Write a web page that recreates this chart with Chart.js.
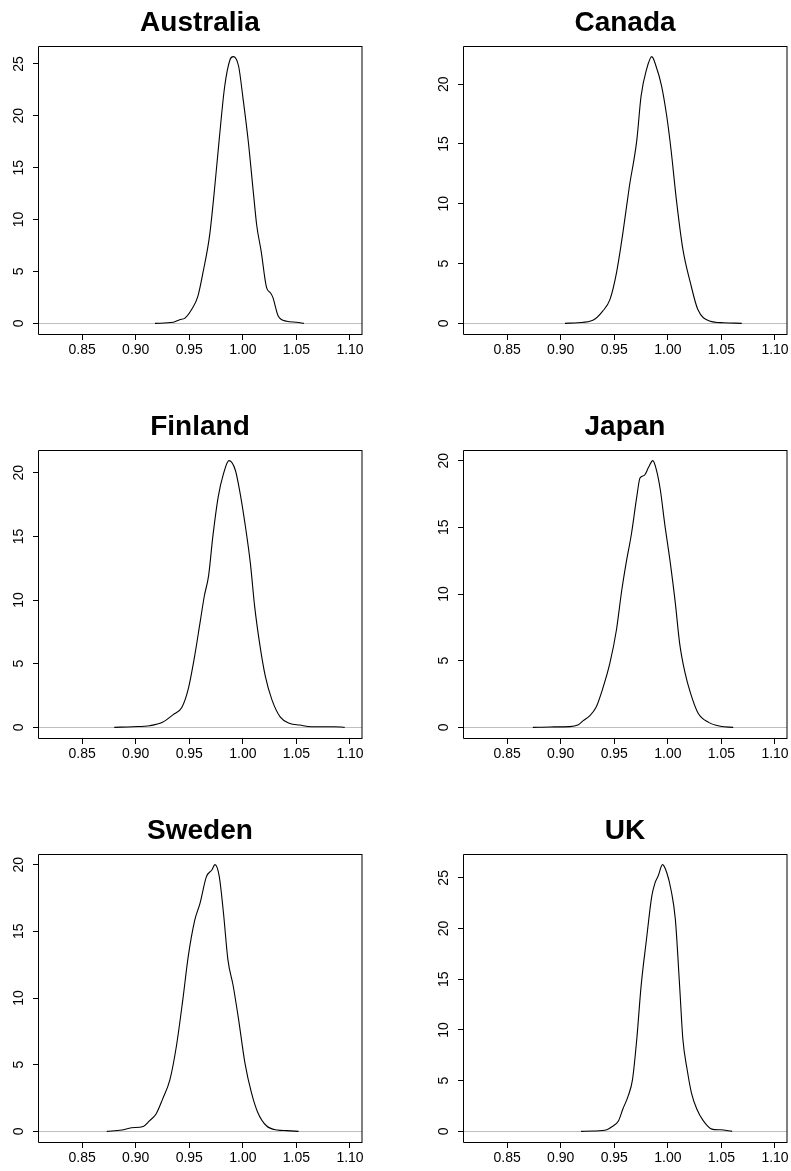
<!DOCTYPE html>
<html>
<head>
<meta charset="utf-8">
<script src="https://cdn.jsdelivr.net/npm/chart.js@4"></script>
<style>
  body { margin: 0; background: #fff; }
  #page { position: relative; width: 791px; height: 1171px; overflow: hidden; }
  #page canvas { position: absolute; }
</style>
</head>
<body>
<div id="page"></div>
<script>
// density curves (x = value, y = density)
const countries = ['Australia', 'Canada', 'Finland', 'Japan', 'Sweden', 'UK'];

const australiaX = [0.918, 0.935, 0.941, 0.946, 0.952, 0.958, 0.963, 0.969, 0.974, 0.978, 0.983, 0.988, 0.991, 0.996, 1.000, 1.005, 1.010, 1.013, 1.017, 1.022, 1.026, 1.028, 1.033, 1.041, 1.050, 1.057];
const australiaY = [0.0, 0.1, 0.35, 0.5, 1.3, 2.6, 5.0, 8.5, 13.4, 17.8, 22.8, 25.4, 25.7, 24.8, 21.8, 17.6, 12.4, 9.4, 7.0, 3.5, 2.9, 2.5, 0.7, 0.2, 0.1, 0.0];

const canadaX = [0.904, 0.916, 0.930, 0.939, 0.946, 0.952, 0.958, 0.964, 0.971, 0.975, 0.980, 0.985, 0.989, 0.994, 0.999, 1.003, 1.008, 1.014, 1.021, 1.028, 1.039, 1.052, 1.069];
const canadaY = [0.0, 0.05, 0.25, 1.0, 2.0, 4.2, 7.55, 11.4, 15.3, 19.0, 21.2, 22.3, 21.5, 19.9, 17.3, 14.5, 10.3, 6.2, 3.4, 1.15, 0.2, 0.05, 0.0];

const finlandX = [0.880, 0.897, 0.913, 0.925, 0.935, 0.943, 0.949, 0.955, 0.960, 0.964, 0.968, 0.972, 0.977, 0.982, 0.987, 0.993, 0.997, 1.002, 1.007, 1.011, 1.016, 1.021, 1.027, 1.035, 1.044, 1.053, 1.064, 1.085, 1.095];
const finlandY = [0.0, 0.05, 0.13, 0.4, 1.0, 1.56, 3.0, 5.6, 8.2, 10.3, 11.9, 15.0, 18.1, 19.95, 20.95, 20.2, 18.6, 16.0, 12.9, 9.5, 6.4, 4.0, 2.2, 0.8, 0.3, 0.18, 0.05, 0.05, 0.0];

const japanX = [0.874, 0.890, 0.908, 0.916, 0.921, 0.927, 0.933, 0.939, 0.946, 0.952, 0.957, 0.961, 0.966, 0.971, 0.974, 0.978, 0.982, 0.986, 0.989, 0.993, 0.997, 1.002, 1.007, 1.011, 1.016, 1.021, 1.028, 1.038, 1.049, 1.061];
const japanY = [0.0, 0.03, 0.05, 0.17, 0.5, 0.86, 1.5, 2.85, 4.85, 7.3, 10.3, 12.3, 14.5, 17.3, 18.7, 18.9, 19.5, 20.0, 19.4, 17.8, 15.3, 12.5, 9.3, 6.3, 4.1, 2.6, 1.1, 0.37, 0.08, 0.0];

const swedenX = [0.873, 0.887, 0.896, 0.907, 0.913, 0.919, 0.925, 0.932, 0.938, 0.944, 0.949, 0.955, 0.960, 0.966, 0.971, 0.974, 0.978, 0.982, 0.986, 0.991, 0.996, 1.002, 1.008, 1.014, 1.022, 1.032, 1.041, 1.052];
const swedenY = [0.0, 0.1, 0.27, 0.37, 0.8, 1.3, 2.4, 3.9, 6.4, 9.9, 13.1, 15.8, 17.1, 19.1, 19.6, 20.0, 19.1, 16.3, 12.9, 10.9, 8.4, 5.1, 2.9, 1.4, 0.42, 0.1, 0.05, 0.0];

const ukX = [0.919, 0.930, 0.943, 0.947, 0.954, 0.958, 0.963, 0.967, 0.971, 0.975, 0.980, 0.985, 0.988, 0.991, 0.995, 0.999, 1.003, 1.007, 1.011, 1.014, 1.018, 1.022, 1.027, 1.033, 1.041, 1.049, 1.060];
const ukY = [0.0, 0.03, 0.15, 0.4, 1.05, 2.2, 3.5, 5.1, 9.1, 14.3, 18.9, 23.2, 24.5, 25.2, 26.3, 25.5, 23.8, 20.9, 14.3, 9.1, 6.1, 3.8, 2.2, 1.05, 0.22, 0.15, 0.0];

// axes
const xLimits = [0.82, 1.10];
const xTicks = [0.85, 0.90, 0.95, 1.00, 1.05, 1.10];
const yTicks20 = [0, 5, 10, 15, 20];
const yTicks25 = [0, 5, 10, 15, 20, 25];

const panels = [
  { x: australiaX, y: australiaY, yTicks: yTicks25 },
  { x: canadaX, y: canadaY, yTicks: yTicks20 },
  { x: finlandX, y: finlandY, yTicks: yTicks20 },
  { x: japanX, y: japanY, yTicks: yTicks20 },
  { x: swedenX, y: swedenY, yTicks: yTicks20 },
  { x: ukX, y: ukY, yTicks: yTicks25 },
];

const FONT = '"Liberation Sans", Arial, Helvetica, sans-serif';

// box, zero line and rotated y labels like base R graphics
const rStyle = {
  id: 'rStyle',
  beforeDatasetsDraw(chart) {
    const { ctx, chartArea: a, scales } = chart;
    const y0 = Math.round(scales.y.getPixelForValue(0)) + 0.5;
    ctx.save();
    ctx.strokeStyle = '#bebebe';
    ctx.lineWidth = 1;
    ctx.beginPath();
    ctx.moveTo(a.left, y0);
    ctx.lineTo(a.right, y0);
    ctx.stroke();
    ctx.restore();
  },
  afterDraw(chart) {
    const { ctx, chartArea: a, scales } = chart;
    ctx.save();
    ctx.strokeStyle = '#000';
    ctx.lineWidth = 1;
    ctx.beginPath();
    ctx.moveTo(a.right, a.top + 0.5);
    ctx.lineTo(a.left + 0.5, a.top + 0.5);
    ctx.lineTo(a.left + 0.5, a.bottom + 0.5);
    ctx.lineTo(a.right, a.bottom + 0.5);
    ctx.stroke();
    // right edge sits between pixels in the original
    ctx.beginPath();
    ctx.moveTo(a.right, a.top);
    ctx.lineTo(a.right, a.bottom + 1);
    ctx.stroke();
    ctx.fillStyle = '#000';
    ctx.font = '14px ' + FONT;
    ctx.textAlign = 'center';
    ctx.textBaseline = 'middle';
    scales.y.ticks.forEach(t => {
      ctx.save();
      ctx.translate(a.left - 19, scales.y.getPixelForValue(t.value));
      ctx.rotate(-Math.PI / 2);
      ctx.fillText(String(t.value), 0, 0);
      ctx.restore();
    });
    ctx.restore();
  }
};

const page = document.getElementById('page');
const xPad = (xLimits[1] - xLimits[0]) * 0.04;

panels.forEach((p, i) => {
  const col = i % 2, row = Math.floor(i / 2);
  const canvas = document.createElement('canvas');
  const w = col ? 396 : 395;
  canvas.width = w;
  canvas.height = 363;
  canvas.style.left = (col ? 395 : 0) + 'px';
  canvas.style.top = (row * 404) + 'px';
  page.appendChild(canvas);

  const peak = Math.max(...p.y);
  const axisWidth = col ? 68 : 38;

  new Chart(canvas, {
    type: 'scatter',
    data: {
      datasets: [{
        data: p.x.map((v, k) => ({ x: v, y: p.y[k] })),
        showLine: true,
        borderColor: '#000',
        borderWidth: 1.1,
        pointRadius: 0,
        cubicInterpolationMode: 'monotone',
        fill: false,
      }],
    },
    options: {
      responsive: false,
      animation: false,
      devicePixelRatio: 1,
      layout: { padding: { left: 0, right: w - axisWidth - 324, top: 0, bottom: 0 } },
      plugins: {
        legend: { display: false },
        tooltip: { enabled: false },
        title: {
          display: true,
          text: countries[i],
          fullSize: false,
          color: '#000',
          font: { family: FONT, size: 28, weight: 'bold', lineHeight: 1.2 },
          padding: { top: 6, bottom: 6.4 },
        },
      },
      scales: {
        x: {
          type: 'linear',
          min: xLimits[0] - xPad,
          max: xLimits[1] + xPad,
          afterBuildTicks: s => { s.ticks = xTicks.map(v => ({ value: v })); },
          afterFit: s => { s.height = 29; },
          grid: { drawOnChartArea: false, drawTicks: true, tickLength: 6, color: '#000' },
          border: { display: false },
          ticks: {
            color: '#000',
            font: { family: FONT, size: 14 },
            padding: 2,
            maxRotation: 0,
            autoSkip: false,
            callback: v => v.toFixed(2),
          },
        },
        y: {
          type: 'linear',
          min: -0.04 * peak,
          max: 1.04 * peak,
          afterBuildTicks: s => { s.ticks = p.yTicks.map(v => ({ value: v })); },
          afterFit: s => { s.width = axisWidth; },
          grid: { drawOnChartArea: false, drawTicks: true, tickLength: 5, color: '#000' },
          border: { display: false },
          ticks: { display: false },
        },
      },
    },
    plugins: [rStyle],
  });
});
</script>
</body>
</html>
